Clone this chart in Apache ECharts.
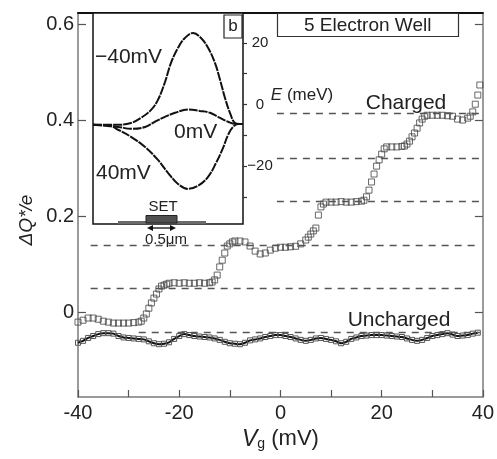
<!DOCTYPE html>
<html><head><meta charset="utf-8">
<script src="https://cdn.jsdelivr.net/npm/echarts@6/dist/echarts.min.js"></script>
<style>html,body{margin:0;padding:0;background:#fff}#c{width:497px;height:459px}</style>
</head><body><div id="c"></div>
<script>
// ---- main panel data (Vg in mV, ΔQ*/e) ----
const chargedVg = [-40,-39,-38,-37,-36,-35,-34,-33,-32,-31,-30,-29,-28,-27.5,-27,-26.5,-26,-25.5,-25,-24.5,-24,-23.5,-23,-22.5,-22,-21,-20,-19,-18,-17,-16,-15,-14,-13.5,-13,-12.5,-12,-11.5,-11,-10.5,-10,-9.5,-9,-8,-7,-6,-5,-4,-3,-2,-1,0,1,2,3,4,5,5.5,6,6.5,7,7.5,8,8.5,9,10,11,12,13,14,15,16,16.5,17,17.5,18,18.5,19,19.5,20,20.5,21,22,23,24,24.5,25,25.5,26,26.5,27,27.5,28,28.5,29,30,31,32,33,34,35,36,37,37.5,38,38.5,39,39.4];
const chargedQ = [-0.021,-0.017,-0.0125,-0.0125,-0.015,-0.019,-0.021,-0.023,-0.023,-0.023,-0.023,-0.022,-0.021,-0.019,-0.0125,-0.004,0.008,0.019,0.029,0.0375,0.048,0.054,0.056,0.058,0.060,0.061,0.060,0.061,0.060,0.060,0.061,0.060,0.061,0.0625,0.067,0.077,0.094,0.108,0.123,0.1375,0.142,0.146,0.148,0.148,0.146,0.1375,0.127,0.121,0.123,0.129,0.133,0.135,0.135,0.136,0.137,0.142,0.150,0.156,0.1625,0.169,0.175,0.202,0.219,0.225,0.229,0.229,0.229,0.230,0.229,0.229,0.230,0.231,0.233,0.240,0.254,0.271,0.2875,0.304,0.317,0.329,0.340,0.344,0.344,0.344,0.345,0.346,0.350,0.356,0.365,0.373,0.383,0.394,0.402,0.408,0.410,0.410,0.410,0.410,0.409,0.408,0.402,0.400,0.404,0.408,0.417,0.433,0.452,0.473];
const unchargedVg = [-40,-39,-38,-37,-36,-35,-34,-33,-32,-31,-30,-29,-28,-27,-26,-25,-24,-23,-22,-21,-20,-19,-18,-17,-16,-15,-14,-13,-12,-11,-10,-9,-8,-7,-6,-5,-4,-3,-2,-1,0,1,2,3,4,5,6,7,8,9,10,11,12,13,14,15,16,17,18,19,20,21,22,23,24,25,26,27,28,29,30,31,32,33,34,35,36,37,38,39];
const unchargedQ = [-0.064,-0.060,-0.054,-0.050,-0.046,-0.044,-0.044,-0.045,-0.050,-0.053,-0.054,-0.055,-0.056,-0.057,-0.061,-0.065,-0.067,-0.066,-0.063,-0.056,-0.050,-0.046,-0.048,-0.050,-0.051,-0.052,-0.053,-0.055,-0.058,-0.062,-0.065,-0.066,-0.067,-0.064,-0.059,-0.057,-0.055,-0.052,-0.050,-0.048,-0.048,-0.050,-0.052,-0.055,-0.058,-0.060,-0.058,-0.055,-0.054,-0.056,-0.058,-0.061,-0.065,-0.062,-0.056,-0.053,-0.050,-0.049,-0.048,-0.048,-0.048,-0.049,-0.050,-0.051,-0.052,-0.055,-0.058,-0.060,-0.058,-0.054,-0.050,-0.048,-0.046,-0.044,-0.047,-0.050,-0.049,-0.048,-0.045,-0.043];
// dashed reference levels
const dashLevels = [0.415, 0.321, 0.231, 0.140, 0.050, -0.042];
const dashStartVg = [-0.7, -0.7, -0.7, -37.5, -37.5, -28];
const dashEndVg = 39.4;
// axis ticks / labels
const xTickLabels = [-40, -20, 0, 20, 40];
const yTickValues = [0, 0.2, 0.4, 0.6];
// ---- inset data (position a.u., E in meV) ----
const insetXm40 = [0,16.7,25.3,32,38.7,43.3,48,52,56.7,61.3,66.7,72,76.7,81.3,84.7,88,91.3,94.7,98,100];
const insetEm40 = [-6.6,-6.6,-6.0,-4.35,-1.75,1.5,7.3,13.5,18.4,21.6,23.2,21.6,18.4,13.5,8.0,2.1,-2.7,-6.0,-6.3,-6.3];
const insetX0 = [0,16.7,25.3,34.7,41.3,48,54.7,63.3,71.3,78,83.3,90,95.3,100];
const insetE0 = [-6.6,-7.3,-7.9,-7.3,-5.6,-4.0,-2.7,-1.6,-2.1,-2.7,-4.0,-5.6,-6.3,-6.3];
const insetXp40 = [0,11.3,16.7,25.3,34.7,43.3,50,56.7,63.3,70,76.7,82,86.7,90,93.3,96.7,100];
const insetEp40 = [-6.6,-6.9,-8.2,-10.5,-13.8,-18.0,-22.2,-25.8,-27.4,-26.4,-23.5,-19.0,-14.1,-9.9,-7.3,-6.3,-6.3];
const insetETicks = [-30, -20, -10, 0, 10, 20];
const insetELabels = [-20, 0, 20];

const zip = (a, b) => a.map((v, i) => [v, b[i]]);
const FONT = 'Liberation Sans, Arial, sans-serif';
const TXT = '#222';

const chart = echarts.init(document.getElementById('c'), null, {renderer: 'canvas'});
chart.setOption({
  animation: false,
  backgroundColor: '#fff',
  textStyle: {fontFamily: FONT, color: TXT},
  title: {
    text: '5 Electron Well', left: 277, top: 13,
    padding: [3, 27, 2, 27], borderColor: '#333', borderWidth: 1.2, backgroundColor: '#fff',
    textStyle: {fontFamily: FONT, fontSize: 19, fontWeight: 'normal', color: TXT}
  },
  grid: [
    {left: 78, right: 12, top: 13, bottom: 62, containLabel: false},
    {left: 93, top: 13, width: 150, height: 211, show: true, backgroundColor: '#fff', borderColor: '#111', borderWidth: 1.5, z: 5}
  ],
  xAxis: [
    {gridIndex: 0, type: 'value', min: -40, max: 40, interval: 10,
      name: '{i|V}{s|g} (mV)', nameLocation: 'middle', nameGap: 29,
      nameTextStyle: {fontFamily: FONT, fontSize: 22, color: TXT,
        rich: {i: {fontStyle: 'italic', fontSize: 23, fontFamily: FONT, color: TXT}, s: {fontSize: 14, fontFamily: FONT, color: TXT, verticalAlign: 'bottom', padding: [10, 0, 0, 0]}}},
      axisLine: {onZero: false, lineStyle: {color: '#7a7a7a', width: 1.5}},
      axisTick: {inside: true, length: 7, lineStyle: {color: '#555', width: 1.2}},
      axisLabel: {margin: 6, fontSize: 20, color: TXT, fontFamily: FONT, showMinLabel: true, showMaxLabel: true,
        formatter: v => (xTickLabels.indexOf(v) >= 0 ? String(v) : '')},
      splitLine: {show: false}},
    {gridIndex: 0, type: 'value', position: 'top', min: -40, max: 40,
      axisLine: {onZero: false, lineStyle: {color: '#111', width: 2}}, axisTick: {show: false}, axisLabel: {show: false}, splitLine: {show: false}},
    {gridIndex: 1, type: 'value', min: 0, max: 100, show: false, axisLine: {onZero: false}}
  ],
  yAxis: [
    {gridIndex: 0, type: 'value', min: -0.177, max: 0.623,
      axisLine: {show: true, onZero: false, lineStyle: {color: '#7a7a7a', width: 1.5}},
      axisTick: {show: true, inside: true, length: 8, customValues: yTickValues, lineStyle: {color: '#555', width: 1.2}},
      axisLabel: {margin: 4, fontSize: 20, color: TXT, fontFamily: FONT, customValues: yTickValues,
        formatter: v => (Math.abs(v) < 1e-9 ? '0' : v.toFixed(1))},
      splitLine: {show: false}},
    {gridIndex: 0, type: 'value', position: 'right', min: -0.177, max: 0.623,
      axisLine: {show: true, onZero: false, lineStyle: {color: '#7a7a7a', width: 1.5}},
      axisTick: {show: true, inside: true, length: 8, customValues: yTickValues, lineStyle: {color: '#555', width: 1.2}},
      axisLabel: {show: false}, splitLine: {show: false}},
    {gridIndex: 1, type: 'value', position: 'right', min: -38.8, max: 29.7, z: 6,
      axisLine: {show: false, onZero: false},
      axisTick: {show: true, inside: false, length: 4, customValues: insetETicks, lineStyle: {color: '#333', width: 1.2}},
      axisLabel: {show: true, margin: 17, align: 'center', fontSize: 15, color: TXT, fontFamily: FONT, customValues: insetELabels,
        formatter: v => String(v).replace('-', '\u2212')},
      splitLine: {show: false}}
  ],
  series: [
    {name: 'levels', type: 'line', xAxisIndex: 0, yAxisIndex: 0, data: [], silent: true,
      markLine: {silent: true, symbol: 'none', label: {show: false},
        lineStyle: {color: '#555', width: 1.4, type: [7, 6]},
        data: dashLevels.map((l, i) => [{coord: [dashStartVg[i], l]}, {coord: [dashEndVg, l]}])}},
    {name: 'Uncharged', type: 'line', xAxisIndex: 0, yAxisIndex: 0, data: zip(unchargedVg, unchargedQ),
      smooth: 0.3, symbol: 'rect', symbolSize: 5, showAllSymbol: true,
      lineStyle: {color: '#111', width: 2},
      itemStyle: {color: 'rgba(255,255,255,0)', borderColor: '#555', borderWidth: 1}, z: 3},
    {name: 'Charged', type: 'scatter', xAxisIndex: 0, yAxisIndex: 0, data: zip(chargedVg, chargedQ),
      symbol: 'rect', symbolSize: 6,
      itemStyle: {color: 'rgba(255,255,255,0)', borderColor: '#444', borderWidth: 1}, z: 4},
    {name: '-40mV', type: 'line', xAxisIndex: 2, yAxisIndex: 2, data: zip(insetXm40, insetEm40), smooth: 0.4, symbol: 'none',
      lineStyle: {color: '#111', width: 2, type: [9, 1]}, z: 7},
    {name: '0mV', type: 'line', xAxisIndex: 2, yAxisIndex: 2, data: zip(insetX0, insetE0), smooth: 0.4, symbol: 'none',
      lineStyle: {color: '#111', width: 2, type: [9, 1]}, z: 7},
    {name: '40mV', type: 'line', xAxisIndex: 2, yAxisIndex: 2, data: zip(insetXp40, insetEp40), smooth: 0.4, symbol: 'none',
      lineStyle: {color: '#111', width: 2, type: [9, 1]}, z: 7}
  ],
  graphic: [
    {type: 'text', x: 27, y: 220, rotation: Math.PI / 2, z: 10,
      style: {text: '\u0394Q*/e', font: 'italic 19px ' + FONT, fill: TXT, align: 'center', verticalAlign: 'middle'}},
    {type: 'text', x: 406, y: 103, z: 10, style: {text: 'Charged', font: '21px ' + FONT, fill: TXT, align: 'center', verticalAlign: 'middle'}},
    {type: 'text', x: 399, y: 320, z: 10, style: {text: 'Uncharged', font: '21px ' + FONT, fill: TXT, align: 'center', verticalAlign: 'middle'}},
    {type: 'text', x: 95, y: 57, z: 10, style: {text: '\u221240mV', font: '21px ' + FONT, fill: TXT, align: 'left', verticalAlign: 'middle'}},
    {type: 'text', x: 174, y: 132, z: 10, style: {text: '0mV', font: '21px ' + FONT, fill: TXT, align: 'left', verticalAlign: 'middle'}},
    {type: 'text', x: 96, y: 173, z: 10, style: {text: '40mV', font: '21px ' + FONT, fill: TXT, align: 'left', verticalAlign: 'middle'}},
    {type: 'text', x: 302, y: 95, z: 10, style: {text: '{i|E} (meV)', font: '17px ' + FONT, fill: TXT, align: 'center', verticalAlign: 'middle',
      rich: {i: {fontStyle: 'italic', fontSize: 17, fontFamily: FONT, fill: TXT}}}},
    // SET schematic
    {type: 'rect', z: 10, shape: {x: 118, y: 221, width: 88, height: 3}, style: {fill: '#6a6a6a'}},
    {type: 'rect', z: 11, shape: {x: 146, y: 215.5, width: 31, height: 7.5}, style: {fill: '#505050', stroke: '#222', lineWidth: 1}},
    {type: 'text', x: 163, y: 207, z: 10, style: {text: 'SET', font: '15px ' + FONT, fill: TXT, align: 'center', verticalAlign: 'middle'}},
    {type: 'text', x: 166, y: 240, z: 10, style: {text: '0.5\u03bcm', font: '15px ' + FONT, fill: TXT, align: 'center', verticalAlign: 'middle'}},
    {type: 'line', z: 10, shape: {x1: 151, y1: 228, x2: 172, y2: 228}, style: {stroke: '#111', lineWidth: 1.3}},
    {type: 'polygon', z: 10, shape: {points: [[147, 228], [153, 225], [153, 231]]}, style: {fill: '#111'}},
    {type: 'polygon', z: 10, shape: {points: [[176, 228], [170, 225], [170, 231]]}, style: {fill: '#111'}},
    {type: 'rect', z: 10, shape: {x: 224, y: 15, width: 18, height: 23}, style: {fill: '#fff', stroke: '#222', lineWidth: 1.2}},
    {type: 'text', x: 233, y: 26.5, z: 11, style: {text: 'b', font: '17px ' + FONT, fill: TXT, align: 'center', verticalAlign: 'middle'}}
  ]
});
</script></body></html>
